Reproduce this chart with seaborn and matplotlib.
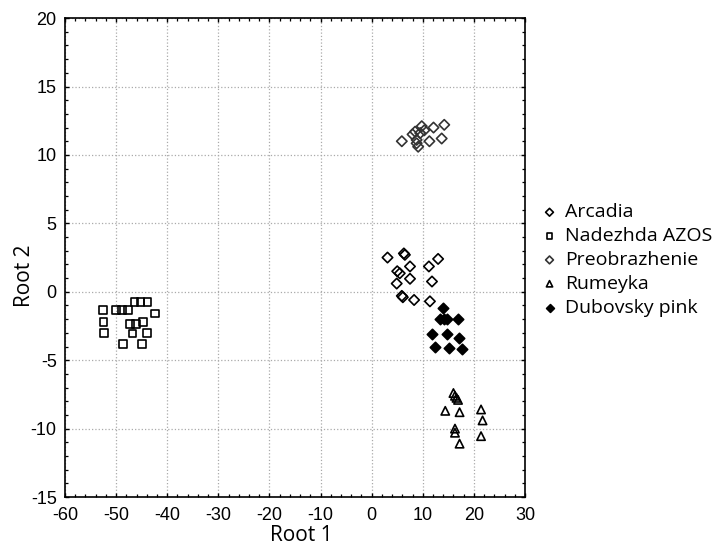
import matplotlib
matplotlib.use("Agg")
import matplotlib.pyplot as plt
import seaborn as sns
import pandas as pd
from matplotlib.ticker import MultipleLocator, AutoMinorLocator

# Root scores
arcadia_x = [3.1, 6.3, 6.5, 7.5, 5.0, 5.5, 4.9, 7.5, 11.2, 13.0, 11.8, 5.9, 6.1, 8.3, 11.4]
arcadia_y = [2.5, 2.8, 2.7, 1.85, 1.5, 1.35, 0.6, 0.95, 1.85, 2.4, 0.75, -0.3, -0.4, -0.6, -0.7]

nadezhda_x = [-52.6, -52.5, -52.4, -50.0, -48.8, -47.7, -46.4, -45.2, -43.9, -42.4,
              -47.3, -46.1, -44.8, -46.8, -44.0, -48.7, -44.9]
nadezhda_y = [-1.35, -2.2, -3.0, -1.35, -1.35, -1.35, -0.75, -0.75, -0.75, -1.6,
              -2.35, -2.35, -2.2, -3.05, -3.0, -3.8, -3.8]

preob_x = [5.9, 8.5, 9.8, 9.5, 8.8, 9.1, 8.8, 12.1, 14.2, 11.3, 13.7, 8.0, 10.3]
preob_y = [11.0, 11.7, 12.1, 11.6, 11.1, 10.6, 10.85, 12.0, 12.2, 11.0, 11.2, 11.5, 11.8]

rumeyka_x = [16.0, 16.3, 16.9, 16.6, 14.4, 17.2, 21.4, 21.7, 16.3, 16.3, 21.4, 17.2]
rumeyka_y = [-7.4, -7.6, -7.9, -7.75, -8.7, -8.8, -8.6, -9.4, -10.0, -10.3, -10.55, -11.1]

dubovsky_x = [13.9, 13.4, 14.2, 14.8, 16.8, 11.75, 14.7, 17.0, 12.4, 15.2, 17.6]
dubovsky_y = [-1.15, -2.0, -2.0, -2.0, -2.0, -3.1, -3.1, -3.4, -4.0, -4.1, -4.2]

groups = [
    ("Arcadia", arcadia_x, arcadia_y, "D", 28, "none", "black"),
    ("Nadezhda AZOS", nadezhda_x, nadezhda_y, "s", 30, "none", "black"),
    ("Preobrazhenie", preob_x, preob_y, "D", 28, "none", "#333333"),
    ("Rumeyka", rumeyka_x, rumeyka_y, "^", 36, "none", "black"),
    ("Dubovsky pink", dubovsky_x, dubovsky_y, "D", 28, "black", "black"),
]

sns.set_style("ticks")
plt.rcParams["font.family"] = ["Liberation Sans", "DejaVu Sans"]
plt.rcParams["axes.unicode_minus"] = False
plt.rcParams["text.color"] = "black"
plt.rcParams["axes.labelcolor"] = "black"
plt.rcParams["xtick.color"] = "black"
plt.rcParams["ytick.color"] = "black"

fig = plt.figure(figsize=(7.17, 5.48), dpi=100)
ax = fig.add_axes([0.0907, 0.093, 0.6415, 0.874])

for name, xs, ys, mk, size, fc, ec in groups:
    df = pd.DataFrame({"Root 1": xs, "Root 2": ys})
    sns.scatterplot(data=df, x="Root 1", y="Root 2", marker=mk, s=size,
                    color=ec, facecolor=fc, edgecolor=ec, linewidth=1.2,
                    label=name, ax=ax, legend=False)

ax.set_xlim(-60, 30)
ax.set_ylim(-15, 20)
ax.xaxis.set_major_locator(MultipleLocator(10))
ax.yaxis.set_major_locator(MultipleLocator(5))
ax.xaxis.set_minor_locator(AutoMinorLocator(5))
ax.yaxis.set_minor_locator(AutoMinorLocator(5))
ax.grid(True, which="major", linestyle=":", color="#aaaaaa", linewidth=0.9)
ax.tick_params(which="both", direction="in", top=True, right=True, labelsize=13)
ax.tick_params(which="major", length=3, width=1)
ax.tick_params(which="minor", length=2.5, width=0.9)
ax.tick_params(axis="x", which="major", pad=7)
ax.tick_params(axis="y", which="major", pad=6)
for sp in ax.spines.values():
    sp.set_linewidth(1.2)
    sp.set_color("black")

ax.set_xlabel("Root 1", fontsize=15, family=["Open Sans", "DejaVu Sans"], labelpad=1)
ax.set_ylabel("Root 2", fontsize=15, family=["Open Sans", "DejaVu Sans"], labelpad=-3)
ax.xaxis.label.set_x(0.513)
ax.yaxis.label.set_y(0.463)

handles, labels = ax.get_legend_handles_labels()
fig.legend(handles, labels, loc="center left", bbox_to_anchor=(0.742, 0.5255),
           frameon=False, markerscale=0.75, handlelength=0.8, handletextpad=0.4,
           labelspacing=0.3, borderpad=0,
           prop={"family": ["Open Sans", "DejaVu Sans"], "size": 14})

fig.savefig("out.png", dpi=100)
